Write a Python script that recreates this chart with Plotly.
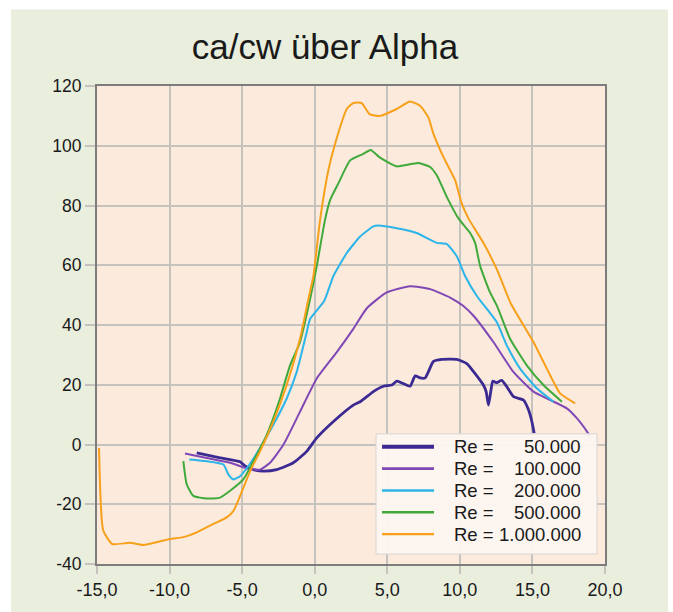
import plotly.graph_objects as go

# ---------------- data ----------------
re_values = ["50.000", "100.000", "200.000", "500.000", "1.000.000"]

alpha_50k = [-8.13, -6.52, -5.14, -4.80, -4.23, -3.54, -2.62, -1.47, -0.55, 0.14, 1.29, 2.66, 3.13,
             4.04, 4.73, 5.31, 5.65, 6.00, 6.57, 6.92, 7.26, 7.61, 7.83, 8.18, 8.75, 9.79, 10.48,
             11.05, 11.62, 11.81, 11.97, 12.13, 12.27, 12.55, 12.89, 13.24, 13.70, 14.38, 14.73,
             14.96, 15.12]
ratio_50k = [-2.8, -4.5, -5.8, -7.2, -8.4, -8.9, -8.4, -6.1, -2.3, 2.2, 7.7, 13.2, 14.3,
             17.7, 19.5, 19.9, 21.2, 20.6, 19.5, 23.0, 22.3, 22.3, 24.3, 27.8, 28.5, 28.5, 27.1,
             23.7, 19.9, 17.7, 13.2, 17.7, 21.2, 20.7, 21.5, 19.3, 16.0, 14.9, 11.6,
             7.7, 3.8]

alpha_100k = [-8.94, -7.44, -5.83, -4.68, -3.77, -3.08, -2.16, -1.01, 0.14, 1.52, 2.66, 3.59, 4.96,
              6.57, 7.95, 9.33, 10.2, 10.94, 12.31, 13.69, 15.07, 16.22, 17.37, 18.06, 18.75, 19.0]
ratio_100k = [-3.0, -4.5, -6.1, -8.0, -8.4, -6.1, -0.1, 11.0, 22.1, 30.9, 38.7, 45.6, 50.9,
              53.0, 52.0, 49.2, 46.5, 43.1, 34.3, 24.3, 17.7, 14.9, 12.1, 8.8, 4.4, 2.5]

alpha_200k = [-8.64, -7.44, -6.29, -5.95, -5.60, -5.14, -4.57, -3.77, -2.85, -1.93, -1.24, -0.55,
              -0.32, 0.65, 1.29, 2.21, 3.13, 4.04, 4.39, 5.65, 7.03, 8.41, 9.10, 9.79, 10.36, 11.17,
              11.6, 12.55, 13.24, 14.15, 15.30, 16.45]
ratio_200k = [-5.0, -5.6, -6.7, -10.0, -11.7, -10.6, -7.2, -1.2, 6.6, 15.4, 24.3, 37.6,
              42.0, 48.0, 56.4, 64.1, 69.6, 73.0, 73.3, 72.4, 70.8, 67.5, 67.1, 63.0, 56.4, 49.7,
              47.0, 40.9, 33.1, 25.4, 18.8, 14.3]

alpha_500k = [-9.05, -8.82, -8.36, -7.44, -6.52, -5.83, -4.92, -4.23, -3.30, -2.39, -1.70, -1.01,
              -0.32, 0.14, 0.71, 1.06, 1.63, 2.44, 3.35, 3.86, 4.45, 5.65, 7.14, 7.95, 8.41, 9.10,
              9.90, 10.71, 11.05, 11.40, 12.08, 12.55, 13.46, 14.61, 15.76, 17.03]
ratio_500k = [-5.6, -13.3, -17.2, -18.1, -17.8, -15.5, -11.7, -5.6, 3.3, 15.4, 26.5, 34.3,
              48.6, 59.7, 75.2, 81.8, 87.4, 95.1, 97.3, 98.6, 96.2, 93.1, 94.2, 92.9, 90.1, 82.9,
              75.7, 70.8, 67.5, 59.7, 50.9, 46.5, 35.4, 26.5, 19.9, 14.3]

alpha_1m = [-14.86, -14.57, -13.95, -12.73, -11.81, -9.97, -9.05, -8.13, -6.98, -6.06, -5.6, -5.14,
            -4.45, -3.77, -2.85, -1.93, -1.01, -0.44, -0.09, 0.37, 0.94, 1.40, 2.21, 2.66, 3.24,
            3.77, 4.50, 5.65, 6.57, 7.26, 7.83, 8.18, 8.87, 9.67, 10.13, 10.59, 11.62, 12.55, 13.5,
            15.07, 15.99, 16.91, 17.94]
ratio_1m = [-1.2, -28.8, -33.3, -32.9, -33.6, -31.6, -31.0, -29.4, -26.6, -24.4, -22.2, -17.2,
            -8.9, -2.3, 7.7, 19.9, 35.4, 48.6, 56.4, 75.2, 91.8, 100.6, 112.3, 114.3, 114.3,
            110.6, 110.0, 112.3, 114.8, 113.4, 109.5, 104.0, 96.2, 88.5, 80.7, 75.7, 67.5, 58.6, 47.3,
            34.3, 25.4, 17.1, 13.8]

x_tick_vals = [-15, -10, -5, 0, 5, 10, 15, 20]
x_tick_text = ["-15,0", "-10,0", "-5,0", "0,0", "5,0", "10,0", "15,0", "20,0"]
y_tick_vals = [-40, -20, 0, 20, 40, 60, 80, 100, 120]
y_tick_text = ["-40", "-20", "0", "20", "40", "60", "80", "100", "120"]

# ---------------- styles ----------------
series = [
    (alpha_50k, ratio_50k, "#3B2A92", 2.8, 4.0),
    (alpha_100k, ratio_100k, "#8048B5", 2.0, 2.6),
    (alpha_200k, ratio_200k, "#2BB5E8", 2.0, 2.6),
    (alpha_500k, ratio_500k, "#3FAA3B", 2.0, 2.6),
    (alpha_1m, ratio_1m, "#F7A11B", 2.0, 2.2),
]

FONT = "Liberation Sans, Arial, sans-serif"
GRID = "#C6C3BF"
TXT = "#1A1A1A"

W, H = 673, 612
L, R, T, B = 97, 605, 86, 567
pw, ph = R - L, B - T


def px2paper_x(px):
    return (px - L) / pw


def px2paper_y(py):
    return (B - py) / ph


fig = go.Figure()
for (xs, ys, col, w, _), val in zip(series, re_values):
    fig.add_trace(go.Scatter(x=xs, y=ys, mode="lines", name="Re = " + val, showlegend=False,
                             line=dict(color=col, width=w, shape="spline", smoothing=0.5)))

shapes = [
    dict(type="rect", xref="paper", yref="paper", layer="below",
         x0=px2paper_x(11), x1=px2paper_x(668), y0=px2paper_y(640), y1=px2paper_y(9),
         fillcolor="#E9EEDD", line=dict(width=0)),
    dict(type="rect", xref="paper", yref="paper", layer="below",
         x0=0, x1=1, y0=0, y1=1, fillcolor="#FCEADD", line=dict(width=0)),
    # legend box
    dict(type="rect", xref="paper", yref="paper", layer="above",
         x0=px2paper_x(376), x1=px2paper_x(597), y0=px2paper_y(557), y1=px2paper_y(436),
         fillcolor="rgba(253,246,240,0.95)", line=dict(color="#D9D6D2", width=1)),
]
annotations = []
row0, row_gap = 449, 22
for i, ((_, _, col, _, lw), val) in enumerate(zip(series, re_values)):
    yy = px2paper_y(row0 + row_gap * i)
    shapes.append(dict(type="line", xref="paper", yref="paper", layer="above",
                       x0=px2paper_x(382), x1=px2paper_x(434), y0=yy, y1=yy,
                       line=dict(color=col, width=lw)))
    annotations.append(dict(xref="paper", yref="paper", x=px2paper_x(452), y=yy,
                            xanchor="left", yanchor="middle", showarrow=False, text="Re =",
                            font=dict(size=18.5, color=TXT, family=FONT)))
    annotations.append(dict(xref="paper", yref="paper", x=px2paper_x(583), y=yy,
                            xanchor="right", yanchor="middle", showarrow=False, text=val,
                            font=dict(size=18.5, color=TXT, family=FONT)))

fig.update_layout(
    width=W, height=H,
    margin=dict(l=L, r=W - R, t=T, b=H - B),
    paper_bgcolor="white",
    plot_bgcolor="#FCEADD",
    font=dict(family=FONT, color=TXT),
    title=dict(text="ca/cw über Alpha", font=dict(size=35, color="#1A1A1A", family=FONT),
               x=325 / W, xref="container", xanchor="center",
               y=1 - 47 / H, yref="container", yanchor="middle"),
    showlegend=False,
    shapes=shapes,
    annotations=annotations,
)

fig.update_xaxes(range=[-15, 20], tickvals=x_tick_vals, ticktext=x_tick_text,
                 showgrid=True, gridcolor=GRID, gridwidth=1.5, zeroline=False,
                 showline=True, linecolor="#7D7D7D", linewidth=2, mirror=True,
                 ticks="outside", ticklen=8, tickcolor=GRID, tickwidth=1.5,
                 tickfont=dict(size=18, color=TXT, family=FONT))
fig.update_yaxes(range=[-40, 120], tickvals=y_tick_vals, ticktext=y_tick_text,
                 showgrid=True, gridcolor=GRID, gridwidth=1.5, zeroline=False,
                 showline=True, linecolor="#7D7D7D", linewidth=2, mirror=True,
                 ticks="outside", ticklen=10, tickcolor=GRID, tickwidth=1.5,
                 tickfont=dict(size=17.5, color=TXT, family=FONT))

fig.write_html("out.html")
